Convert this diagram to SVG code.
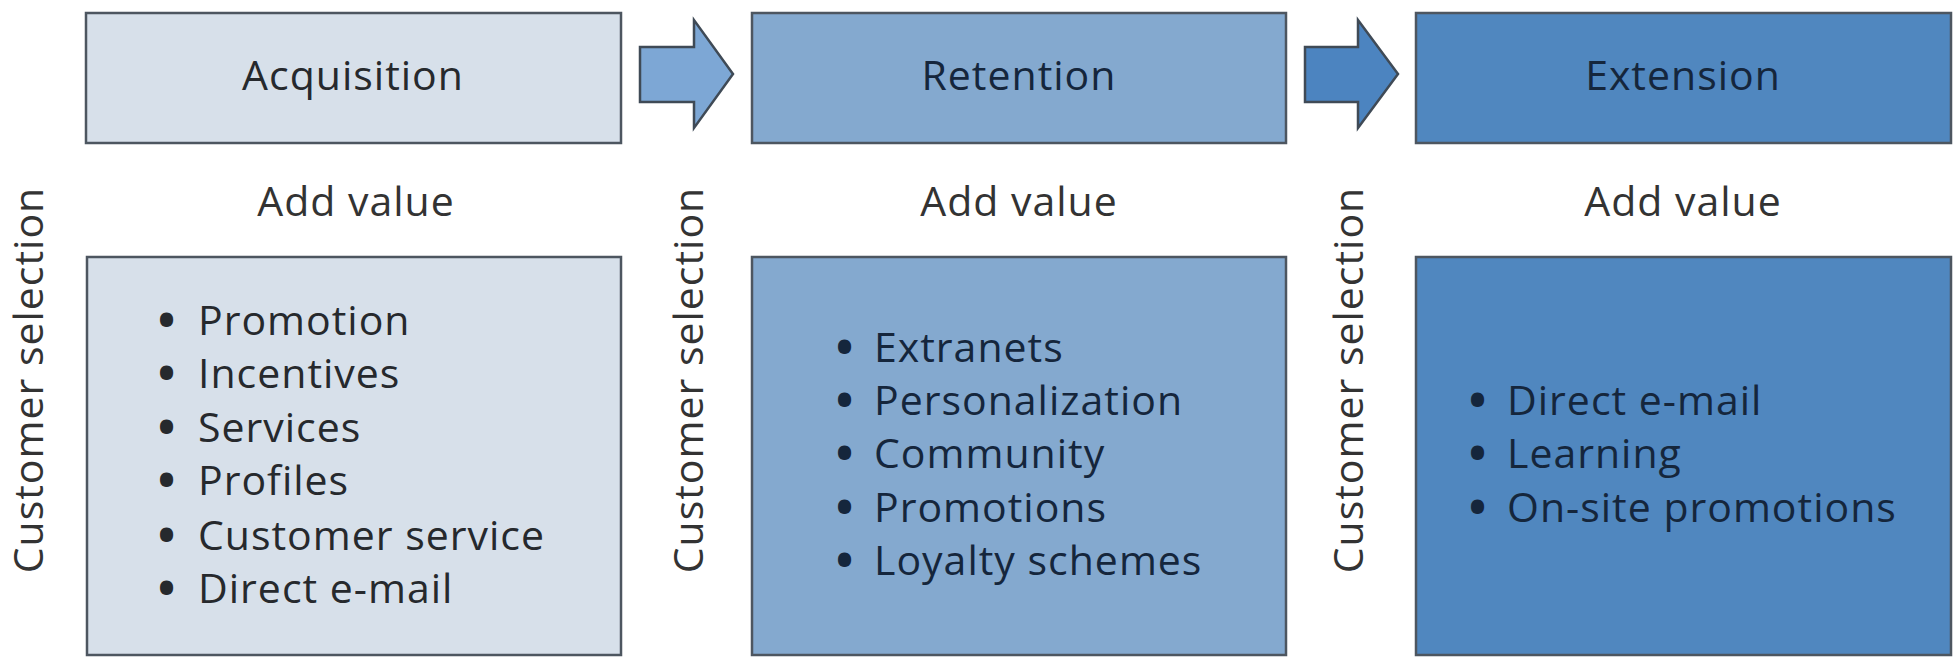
<svg xmlns="http://www.w3.org/2000/svg" width="1956" height="658" viewBox="0 0 1956 658">
  <style>
    text { font-family: "Open Sans", "Noto Sans", "Liberation Sans", sans-serif; font-size: 41px; font-weight: 500; letter-spacing: 1px; }
    .box { stroke: #4d5660; stroke-width: 2.5; }
    .acq { fill: #d7e0ea; }
    .ret { fill: #84a9cf; }
    .ext { fill: #5087bf; }
    .arrow { stroke: #3f4a56; stroke-width: 2.5; stroke-linejoin: miter; }
    .title { text-anchor: middle; }
    .light { fill: #26292d; }
    .dark { fill: #15263c; }
    .label { fill: #333333; text-anchor: middle; }
    .bullet { text-anchor: middle; font-weight: 800; }
  </style>

  <!-- Connectors: block arrows between the stage headers -->
  <g id="connectors">
    <polygon class="arrow" fill="#7da7d5" points="640,47 694,47 694,20 733,74 694,128 694,102 640,102"/>
    <polygon class="arrow" fill="#4c84c0" points="1305,47 1358,47 1358,20 1398,74 1358,128 1358,102 1305,102"/>
  </g>

  <!-- Stage 1: Acquisition -->
  <g id="acquisition">
    <rect class="box acq" x="86" y="13" width="535" height="130"/>
    <text class="title light" x="353" y="90">Acquisition</text>
  </g>
  <g id="acquisition-selection">
    <text class="label" transform="translate(43,380) rotate(-90)">Customer selection</text>
  </g>
  <g id="acquisition-value">
    <text class="label" x="356" y="216">Add value</text>
  </g>
  <g id="acquisition-list">
    <rect class="box acq" x="87" y="257" width="534" height="398"/>
    <g class="light">
      <text class="bullet" x="167" y="335">•</text><text x="198" y="335">Promotion</text>
      <text class="bullet" x="167" y="388">•</text><text x="198" y="388">Incentives</text>
      <text class="bullet" x="167" y="442">•</text><text x="198" y="442">Services</text>
      <text class="bullet" x="167" y="495">•</text><text x="198" y="495">Profiles</text>
      <text class="bullet" x="167" y="550">•</text><text x="198" y="550">Customer service</text>
      <text class="bullet" x="167" y="603">•</text><text x="198" y="603">Direct e-mail</text>
    </g>
  </g>

  <!-- Stage 2: Retention -->
  <g id="retention">
    <rect class="box ret" x="752" y="13" width="534" height="130"/>
    <text class="title dark" x="1019" y="90">Retention</text>
  </g>
  <g id="retention-selection">
    <text class="label" transform="translate(703,380) rotate(-90)">Customer selection</text>
  </g>
  <g id="retention-value">
    <text class="label" x="1019" y="216">Add value</text>
  </g>
  <g id="retention-list">
    <rect class="box ret" x="752" y="257" width="534" height="398"/>
    <g class="dark">
      <text class="bullet" x="845" y="362">•</text><text x="874" y="362">Extranets</text>
      <text class="bullet" x="845" y="415">•</text><text x="874" y="415">Personalization</text>
      <text class="bullet" x="845" y="468">•</text><text x="874" y="468">Community</text>
      <text class="bullet" x="845" y="522">•</text><text x="874" y="522">Promotions</text>
      <text class="bullet" x="845" y="575">•</text><text x="874" y="575">Loyalty schemes</text>
    </g>
  </g>

  <!-- Stage 3: Extension -->
  <g id="extension">
    <rect class="box ext" x="1416" y="13" width="535" height="130"/>
    <text class="title dark" x="1683" y="90">Extension</text>
  </g>
  <g id="extension-selection">
    <text class="label" transform="translate(1363,380) rotate(-90)">Customer selection</text>
  </g>
  <g id="extension-value">
    <text class="label" x="1683" y="216">Add value</text>
  </g>
  <g id="extension-list">
    <rect class="box ext" x="1416" y="257" width="535" height="398"/>
    <g class="dark">
      <text class="bullet" x="1478" y="415">•</text><text x="1507" y="415">Direct e-mail</text>
      <text class="bullet" x="1478" y="468">•</text><text x="1507" y="468">Learning</text>
      <text class="bullet" x="1478" y="522">•</text><text x="1507" y="522">On-site promotions</text>
    </g>
  </g>
</svg>
